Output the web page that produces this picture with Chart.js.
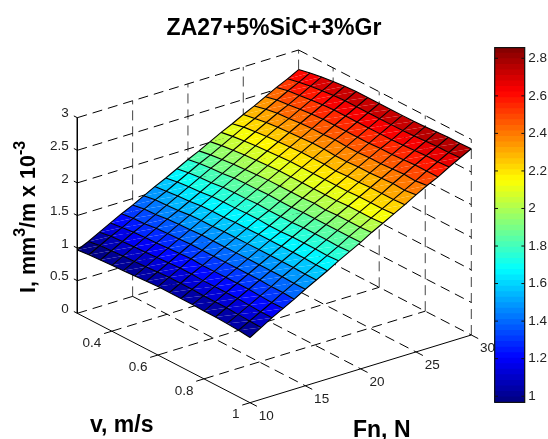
<!DOCTYPE html>
<html>
<head>
<meta charset="utf-8">
<title>ZA27+5%SiC+3%Gr</title>
<script src="https://cdn.jsdelivr.net/npm/chart.js@4/dist/chart.umd.js"></script>
<style>
  html, body { margin: 0; padding: 0; background: #fff; }
  #wrap { position: relative; width: 548px; height: 439px; overflow: hidden; }
  canvas { position: absolute; }
</style>
</head>
<body>
<div id="wrap">
  <canvas id="surface" width="548" height="439" style="left:0;top:0;width:548px;height:439px"></canvas>
  <canvas id="colorbar" width="58" height="378" style="left:490px;top:36px;width:58px;height:378px"></canvas>
</div>
<script>
// grid of the surface
const fnGrid = [10,11,12,13,14,15,16,17,18,19,20,21,22,23,24,25,26,27,28,29,30];
const vGrid = [0.25,0.30,0.35,0.40,0.45,0.50,0.55,0.60,0.65,0.70,0.75,0.80,0.85,0.90,0.95,1.00];

// wear rate, one list per sliding speed
const wearV025 = [0.97,1.05,1.14,1.23,1.32,1.40,1.49,1.58,1.66,1.75,1.84,1.92,2.01,2.10,2.18,2.27,2.35,2.44,2.53,2.61,2.70];
const wearV030 = [0.99,1.08,1.17,1.25,1.34,1.43,1.52,1.60,1.69,1.78,1.87,1.95,2.04,2.13,2.22,2.30,2.39,2.48,2.57,2.65,2.74];
const wearV035 = [1.00,1.09,1.18,1.27,1.35,1.44,1.53,1.62,1.71,1.80,1.89,1.97,2.06,2.15,2.24,2.33,2.42,2.50,2.59,2.68,2.77];
const wearV040 = [1.01,1.10,1.19,1.28,1.37,1.46,1.54,1.63,1.72,1.81,1.90,1.99,2.08,2.17,2.26,2.35,2.43,2.52,2.61,2.70,2.79];
const wearV045 = [1.02,1.11,1.20,1.29,1.38,1.47,1.56,1.65,1.74,1.83,1.92,2.00,2.09,2.18,2.27,2.36,2.45,2.54,2.63,2.72,2.81];
const wearV050 = [1.03,1.12,1.21,1.30,1.39,1.48,1.57,1.66,1.75,1.84,1.93,2.01,2.10,2.19,2.28,2.37,2.46,2.55,2.64,2.73,2.82];
const wearV055 = [1.04,1.13,1.22,1.31,1.40,1.49,1.57,1.66,1.75,1.84,1.93,2.02,2.11,2.20,2.29,2.38,2.46,2.55,2.64,2.73,2.82];
const wearV060 = [1.05,1.14,1.23,1.32,1.40,1.49,1.58,1.67,1.76,1.85,1.94,2.02,2.11,2.20,2.29,2.38,2.47,2.55,2.64,2.73,2.82];
const wearV065 = [1.05,1.14,1.23,1.31,1.40,1.49,1.58,1.67,1.76,1.84,1.93,2.02,2.11,2.20,2.29,2.37,2.46,2.55,2.64,2.73,2.82];
const wearV070 = [1.05,1.14,1.22,1.31,1.40,1.49,1.58,1.67,1.75,1.84,1.93,2.02,2.11,2.20,2.28,2.37,2.46,2.55,2.64,2.73,2.82];
const wearV075 = [1.05,1.13,1.22,1.31,1.40,1.49,1.58,1.67,1.75,1.84,1.94,2.03,2.11,2.20,2.29,2.38,2.47,2.56,2.64,2.73,2.82];
const wearV080 = [1.04,1.13,1.22,1.31,1.40,1.49,1.58,1.67,1.76,1.85,1.94,2.02,2.11,2.20,2.29,2.38,2.47,2.56,2.65,2.74,2.83];
const wearV085 = [1.04,1.13,1.22,1.31,1.40,1.49,1.58,1.67,1.76,1.85,1.94,2.03,2.12,2.21,2.30,2.39,2.48,2.57,2.66,2.75,2.84];
const wearV090 = [1.03,1.12,1.21,1.30,1.39,1.49,1.58,1.67,1.76,1.85,1.94,2.03,2.12,2.21,2.30,2.40,2.49,2.58,2.67,2.76,2.85];
const wearV095 = [1.02,1.11,1.20,1.29,1.39,1.48,1.57,1.66,1.75,1.84,1.94,2.03,2.12,2.21,2.30,2.39,2.48,2.58,2.67,2.76,2.85];
const wearV100 = [1.00,1.10,1.20,1.29,1.38,1.48,1.57,1.66,1.76,1.85,1.94,2.04,2.13,2.22,2.31,2.41,2.50,2.58,2.68,2.77,2.857];
const wearRows = [wearV025,wearV030,wearV035,wearV040,wearV045,wearV050,wearV055,wearV060,
                  wearV065,wearV070,wearV075,wearV080,wearV085,wearV090,wearV095,wearV100];

// axis ticks
const fnTicks = [10,15,20,25,30];
const vTicks = [0.4,0.6,0.8,1];
const wearTicks = [0,0.5,1,1.5,2,2.5,3];
const colorTicks = [1,1.2,1.4,1.6,1.8,2,2.2,2.4,2.6,2.8];

const FN_MIN = 10, FN_MAX = 30, V_MIN = 0.25, V_MAX = 1, WEAR_MAX = 3;
const COLOR_MIN = 0.967, COLOR_MAX = 2.857, COLOR_LEVELS = 64;
const FONT = "'Liberation Sans', Arial, sans-serif";
const TITLE_TOP = 15, TITLE_SIZE = 23;

// oblique view of the box, in page units
function project(fn, v, wear) {
  const a = (fn - FN_MIN) / (FN_MAX - FN_MIN);
  const b = (v - V_MIN) / (V_MAX - V_MIN);
  return {
    x: 77.3 + a * 221.3 + b * 172.7,
    y: 313.3 - a * 67.7 + b * 89.4 - wear * 65.2
  };
}

function jet(level) {
  const t = (level + 0.5) / COLOR_LEVELS;
  const c = d => Math.round(255 * Math.max(0, Math.min(1, 1.5 - Math.abs(4 * t - d))));
  return `rgb(${c(3)},${c(2)},${c(1)})`;
}

function colorFor(val) {
  const l = Math.floor((val - COLOR_MIN) / (COLOR_MAX - COLOR_MIN) * COLOR_LEVELS);
  return jet(Math.max(0, Math.min(COLOR_LEVELS - 1, l)));
}

function lineSet(points, color, width, order, dash) {
  return {
    data: points, showLine: true, pointRadius: 0, fill: false, tension: 0,
    borderColor: color, borderWidth: width, borderDash: dash || [], order: order, clip: false
  };
}

function faceSet(points, color) {
  return {
    data: points, showLine: true, pointRadius: 0, tension: 0, order: 2,
    fill: 'shape', backgroundColor: color, borderWidth: 0, borderColor: 'transparent'
  };
}

const datasets = [];
const DASH = [10, 6];

// dashed floor and back walls
const gridLine = (p, q, color) => datasets.push(lineSet([p, q], color || '#000', 1, 3, DASH));
[V_MIN, ...vTicks.slice(0, 3)].forEach(v => gridLine(project(FN_MIN, v, 0), project(FN_MAX, v, 0)));
[...fnTicks.slice(1)].forEach(fn => gridLine(project(fn, V_MIN, 0), project(fn, V_MAX, 0)));
wearTicks.slice(1).forEach(w => {
  gridLine(project(FN_MIN, V_MIN, w), project(FN_MAX, V_MIN, w));
  gridLine(project(FN_MAX, V_MIN, w), project(FN_MAX, V_MAX, w));
});
fnTicks.slice(1).forEach(fn => gridLine(project(fn, V_MIN, 0), project(fn, V_MIN, WEAR_MAX), '#444'));
vTicks.forEach(v => gridLine(project(FN_MAX, v, 0), project(FN_MAX, v, WEAR_MAX), '#444'));

// surface faces, flat coloured from the first corner of each cell
for (let j = 0; j < vGrid.length - 1; j++) {
  for (let k = 0; k < fnGrid.length - 1; k++) {
    const col = colorFor(wearRows[j][k]);
    const p00 = project(fnGrid[k], vGrid[j], wearRows[j][k]);
    const p10 = project(fnGrid[k + 1], vGrid[j], wearRows[j][k + 1]);
    const p01 = project(fnGrid[k], vGrid[j + 1], wearRows[j + 1][k]);
    const p11 = project(fnGrid[k + 1], vGrid[j + 1], wearRows[j + 1][k + 1]);
    datasets.push(faceSet([p00, p10, p11, p00], col));
    datasets.push(faceSet([p00, p11, p01, p00], col));
  }
}

// mesh lines
vGrid.forEach((v, j) => {
  datasets.push(lineSet(fnGrid.map((fn, k) => project(fn, v, wearRows[j][k])), '#000', 1.1, 1));
});
fnGrid.forEach((fn, k) => {
  datasets.push(lineSet(vGrid.map((v, j) => project(fn, v, wearRows[j][k])), '#000', 1.1, 1));
});

// solid axes and their ticks
datasets.push(lineSet([project(FN_MIN, V_MIN, WEAR_MAX), project(FN_MIN, V_MIN, 0), project(FN_MIN, V_MAX, 0), project(FN_MAX, V_MAX, 0)], '#000', 1, 0));
wearTicks.forEach(w => datasets.push(lineSet([project(FN_MIN, V_MIN, w), project(FN_MIN, V_MIN - 0.015, w)], '#000', 1, 0)));
vTicks.forEach(v => datasets.push(lineSet([project(FN_MIN, v, 0), project(FN_MIN - 0.7, v, 0)], '#000', 1, 0)));
fnTicks.forEach(fn => datasets.push(lineSet([project(fn, V_MAX, 0), project(fn, V_MAX + 0.03, 0)], '#000', 1, 0)));

// tick labels and axis names sit on the projected box
const boxLabels = {
  id: 'boxLabels',
  afterDatasetsDraw(chart) {
    const { ctx, scales } = chart;
    const at = p => ({ x: scales.x.getPixelForValue(p.x), y: scales.y.getPixelForValue(p.y) });
    ctx.save();
    ctx.fillStyle = '#222';
    ctx.font = `13.5px ${FONT}`;
    ctx.textBaseline = 'middle';
    ctx.textAlign = 'right';
    wearTicks.forEach(w => {
      const p = at(project(FN_MIN, V_MIN, w));
      ctx.fillText(String(w), p.x - 8.5, p.y - 4);
    });
    vTicks.forEach(v => {
      const p = at(project(FN_MIN, v, 0));
      ctx.fillText(String(v), p.x - 10.5, p.y + 12);
    });
    ctx.textAlign = 'center';
    fnTicks.forEach(fn => {
      const p = at(project(fn, V_MAX, 0));
      ctx.fillText(String(fn), p.x + 16.3, p.y + 13.5);
    });

    ctx.fillStyle = '#000';
    ctx.font = `bold 23px ${FONT}`;
    ctx.textBaseline = 'alphabetic';
    ctx.textAlign = 'left';
    ctx.fillText('v, m/s', 90, 431.5);
    ctx.fillText('Fn, N', 353, 436.5);

    // rotated name with its two raised parts
    ctx.translate(35, 293);
    ctx.rotate(-Math.PI / 2);
    let pos = 0;
    [['I, mm', 21.5, 0], ['3', 16, -10], ['/m x 10', 21.5, 0], ['-3', 16, -10]].forEach(([txt, size, lift]) => {
      ctx.font = `bold ${size}px ${FONT}`;
      ctx.fillText(txt, pos, lift);
      pos += ctx.measureText(txt).width;
    });
    ctx.restore();
  }
};

new Chart(document.getElementById('surface'), {
  type: 'scatter',
  data: { datasets },
  plugins: [boxLabels],
  options: {
    responsive: false,
    animation: false,
    events: [],
    layout: { padding: 0 },
    plugins: {
      legend: { display: false },
      tooltip: { enabled: false },
      title: {
        display: true,
        text: 'ZA27+5%SiC+3%Gr',
        color: '#000',
        font: { family: FONT, size: TITLE_SIZE, weight: 'bold' },
        padding: { top: TITLE_TOP, bottom: 0 }
      }
    },
    scales: {
      x: { display: false, min: 0, max: 548 },
      y: { display: false, reverse: true, min: TITLE_TOP + TITLE_SIZE * 1.2, max: 439 }
    }
  }
});

// =============================================
//   Colour bar
// =============================================
const barSets = [];
for (let i = 0; i < COLOR_LEVELS; i++) {
  barSets.push({
    type: 'bar',
    data: [[COLOR_MIN, COLOR_MIN + (i + 1) * (COLOR_MAX - COLOR_MIN) / COLOR_LEVELS]],
    backgroundColor: jet(i),
    borderWidth: 0,
    barPercentage: 1,
    categoryPercentage: 1,
    grouped: false,
    order: 2 + i
  });
}
const edgeSet = (points, width) => ({
  type: 'line', xAxisID: 'xLine', data: points, pointRadius: 0, tension: 0,
  borderColor: '#111', borderWidth: width, order: 0, clip: false
});
barSets.push(edgeSet([
  { x: 0, y: COLOR_MIN }, { x: 1, y: COLOR_MIN }, { x: 1, y: COLOR_MAX }, { x: 0, y: COLOR_MAX }, { x: 0, y: COLOR_MIN }
], 1.2));
colorTicks.forEach(t => {
  barSets.push(edgeSet([{ x: 0, y: t }, { x: 0.11, y: t }], 1));
  barSets.push(edgeSet([{ x: 0.89, y: t }, { x: 1, y: t }], 1));
});

new Chart(document.getElementById('colorbar'), {
  data: { labels: ['jet'], datasets: barSets },
  options: {
    responsive: false,
    animation: false,
    events: [],
    layout: { padding: { left: 4.7, top: 10, bottom: 10, right: 0 } },
    plugins: { legend: { display: false }, tooltip: { enabled: false } },
    scales: {
      x: { display: false },
      xLine: { type: 'linear', display: false, min: 0, max: 1 },
      y: {
        position: 'right',
        min: COLOR_MIN,
        max: COLOR_MAX,
        border: { display: false },
        grid: { display: false, drawTicks: false },
        afterFit: s => { s.width = 23.3; },
        afterBuildTicks: s => { s.ticks = colorTicks.map(value => ({ value })); },
        ticks: {
          color: '#222',
          padding: 3.5,
          font: { family: FONT, size: 13.5 },
          callback: v => String(v),
          autoSkip: false,
          maxRotation: 0
        }
      }
    }
  }
});
</script>
</body>
</html>
